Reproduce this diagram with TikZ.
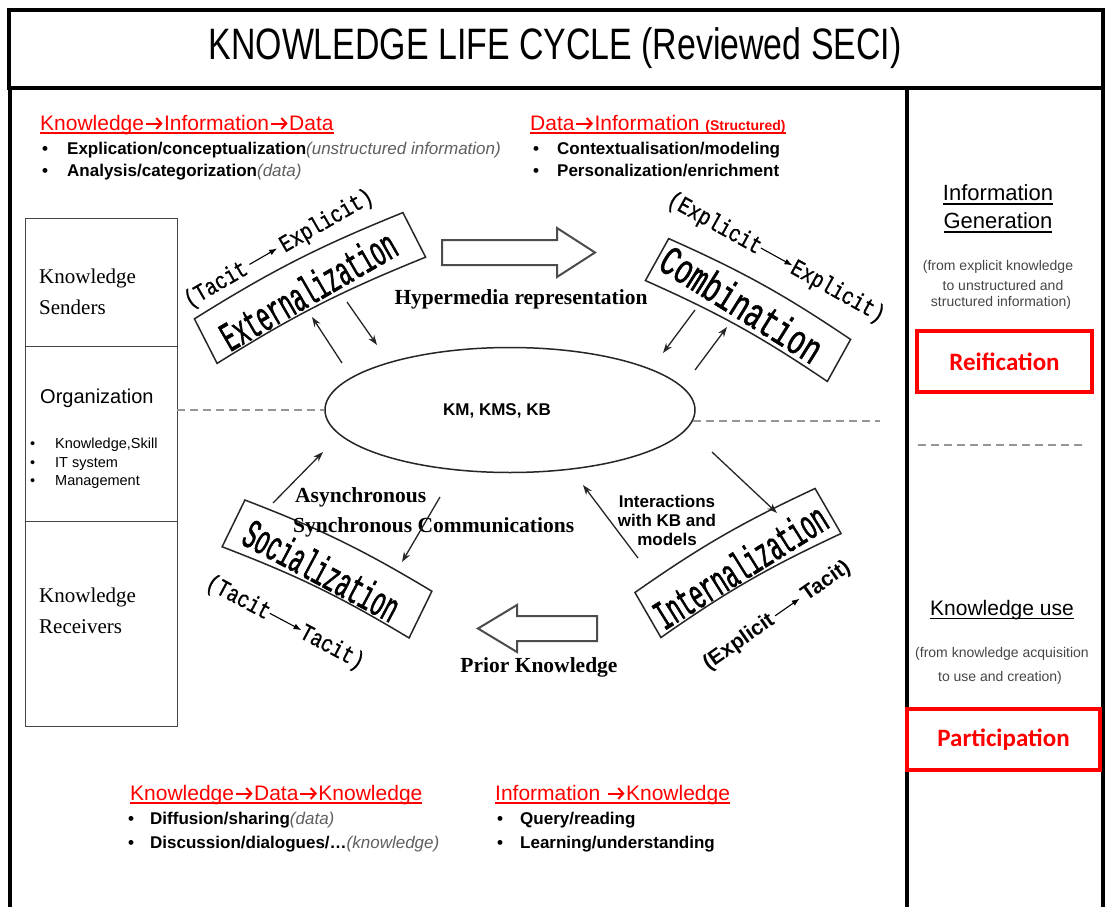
\documentclass[tikz,border=0pt]{standalone}
\usepackage{fontspec}
\setmainfont{Liberation Serif}
\newfontfamily\arial{Liberation Sans}
\newfontfamily\calib{Carlito}
\newfontfamily\banf[FakeStretch=0.52,FakeBold=1.2]{Liberation Mono}
\newfontfamily\banwf[FakeStretch=0.66,FakeBold=1.2]{Liberation Mono}
\newfontfamily\labf[FakeStretch=0.8,FakeBold=0.8]{Liberation Mono}
\usetikzlibrary{arrows.meta,shapes.geometric}
\definecolor{kred}{RGB}{255,0,0}
\definecolor{kgray}{RGB}{150,150,150}
\definecolor{dgray}{RGB}{70,70,70}
\definecolor{igray}{RGB}{95,95,95}
\newcommand\fsz[1]{\fontsize{#1}{#1}\selectfont}
\newcommand\uln[1]{\setbox0\hbox{#1}\rlap{\raisebox{-4pt}{\rule{\wd0}{1.6pt}}}\box0}
\newcommand\larr[1]{\tikz[baseline=-0.6ex]\draw[-{Latex[length=8pt,width=6pt]},line width=1.1pt](0pt,0pt)--(#1,0pt);}
\newcommand\harr{\kern0.5pt\tikz[baseline=0pt]\draw[kred,line width=2pt,-{Straight Barb[length=5pt,width=11pt,line width=2pt]}](0pt,6.5pt)--(17pt,6.5pt);\kern0.5pt}
\begin{document}
\begin{tikzpicture}[x=1pt,y=-1pt,
  frame/.style={line width=4pt},
  colbox/.style={draw=dgray,line width=1.3pt,minimum width=152,anchor=north west,inner sep=0},
  lser/.style={font=\fsz{21},anchor=base west,inner sep=0},
  lsan/.style={font=\arial\fsz{20},anchor=base west,inner sep=0},
  lsm/.style={font=\arial\fsz{14.5},anchor=base west,inner sep=0},
  hd/.style={font=\arial\fsz{21},text=kred,anchor=base west,inner sep=0},
  bl/.style={font=\arial\bfseries\fsz{17},anchor=base west,inner sep=0},
  sb/.style={font=\bfseries\fsz{21.5},inner sep=0},
  rc/.style={font=\arial\fsz{22},inner sep=0},
  rsm/.style={font=\arial\fsz{14},text=dgray,inner sep=0},
  redbox/.style={draw=kred,line width=4pt,text=kred,font=\calib\bfseries\fsz{25},inner sep=0},
  dline/.style={draw=kgray,line width=1.5pt,dash pattern=on 8pt off 5pt},
  banner/.style={draw=black!85,line width=1.5pt},
  sarr/.style={draw=black!85,line width=1.3pt,-{Stealth[length=10pt,width=7pt]}},
  barr/.style={draw=black!70,line width=2pt,fill=white}]
\useasboundingbox (0,0) rectangle (1108,907);
\fill[white] (0,0) rectangle (1108,907);
% frame
\draw[frame] (9,10) rectangle (1103,88);
\draw[frame] (10,88) -- (10,907);
\draw[frame] (907,88) -- (907,907);
\draw[frame] (1103,88) -- (1103,907);
\node[font=\arial\fsz{44},xscale=0.77,inner sep=0] (title) at (555,48) {KNOWLEDGE LIFE CYCLE (Reviewed SECI)};

% top headings
\node[hd] (h1) at (40,130) {\uln{Knowledge\harr Information\harr Data}};
\node[bl] (b1a) at (42,154) {•};
\node[bl] (b1) at (67,154) {Explication/conceptualization{\mdseries\itshape\color{igray}(unstructured information)}};
\node[bl] (b2a) at (42,176) {•};
\node[bl] (b2) at (67,176) {Analysis/categorization{\mdseries\itshape\color{igray}(data)}};
\node[hd] (h2) at (530,130) {\uln{Data\harr Information {\bfseries\fsz{14}(Structured)}}};
\node[bl] (b3a) at (533,154) {•};
\node[bl] (b3) at (557,154) {Contextualisation/modeling};
\node[bl] (b4a) at (533,176) {•};
\node[bl] (b4) at (557,176) {Personalization/enrichment};

% left column
\node[colbox,minimum height=128] (snd) at (25,218) {};
\node[colbox,minimum height=175] (org) at (25,346) {};
\node[colbox,minimum height=205] (rcv) at (25,521) {};
\node[lser] (snd1) at (39,283) {Knowledge};
\node[lser] (snd2) at (39,314) {Senders};
\node[lsan] (org1) at (40,403) {Organization};
\node[lsm] (o1a) at (30,448) {•};
\node[lsm] (o1) at (55,448) {Knowledge,Skill};
\node[lsm] (o2a) at (30,467) {•};
\node[lsm] (o2) at (55,467) {IT system};
\node[lsm] (o3a) at (30,485) {•};
\node[lsm] (o3) at (55,485) {Management};
\node[lser] (rcv1) at (39,602) {Knowledge};
\node[lser] (rcv2) at (39,633) {Receivers};

% ellipse
\node[draw=black!85,ellipse,line width=1.5pt,minimum width=370,minimum height=125,inner sep=0] (km) at (510,410) {};
\node[font=\arial\bfseries\fsz{17},inner sep=0] (kmt) at (497,411) {KM, KMS, KB};
\coordinate (dl) at (177,410);
\draw[dline] (dl) -- (km.west);
\coordinate (dr1) at (693,421);
\coordinate (dr2) at (880,421);
\draw[dline] (dr1) -- (dr2);

% block arrows
\draw[barr] (442,240) -- (557,240) -- (557,228) -- (595,252.5) -- (557,277) -- (557,265) -- (442,265) -- cycle;
\draw[barr] (597,616) -- (517,616) -- (517,605) -- (478,628.5) -- (517,652) -- (517,641) -- (597,641) -- cycle;

% Externalization banner
\begin{scope}[shift={(310,288)},rotate=27]
\draw[banner] (-117,-25) to[bend left=5] (117,-25) -- (117,25) to[bend right=5] (-117,25) -- cycle;
\end{scope}
\node[font=\banf\fsz{42},rotate=30,inner sep=0] (ext) at (308,290) {Externalization};
\node[font=\labf\fsz{24},rotate=30,inner sep=0] (extl) at (279,249) {(Tacit\,\larr{32pt}\,Explicit)};

% Combination banner
\begin{scope}[shift={(748,310)},rotate=-29]
\draw[banner] (-104,-24) to[bend left=5] (104,-24) -- (104,24) to[bend right=5] (-104,24) -- cycle;
\end{scope}
\node[font=\banwf\fsz{42},rotate=-32,inner sep=0] (comb) at (742,304) {Combination};
\node[font=\labf\fsz{24},rotate=-29,inner sep=0] (combl) at (776,258) {(Explicit\larr{36pt}Explicit)};

% Socialization banner
\begin{scope}[shift={(327,569)},rotate=-26]
\draw[banner] (-104,-26) to[bend left=5] (104,-26) -- (104,26) to[bend right=5] (-104,26) -- cycle;
\end{scope}
\node[font=\banf\fsz{42},rotate=-28,inner sep=0] (soc) at (322,570) {Socialization};
\node[font=\labf\fsz{24},rotate=-28,inner sep=0] (socl) at (285,623) {(Tacit\larr{36pt}Tacit)};

% Internalization banner
\begin{scope}[shift={(738,563)},rotate=30]
\draw[banner] (-104,-26) to[bend left=5] (104,-26) -- (104,26) to[bend right=5] (-104,26) -- cycle;
\end{scope}
\node[font=\banf\fsz{42},rotate=32,inner sep=0] (intz) at (740,566) {Internalization};
\node[font=\arial\bfseries\fsz{21},rotate=35,inner sep=0] (intl) at (777,616) {(Explicit\,\larr{30pt}\,Tacit)};

% center texts
\node[sb] (hyp) at (521,299) {Hypermedia representation};
\node[sb,anchor=west] (asy) at (295,497) {Asynchronous};
\node[sb,anchor=west] (syn) at (293,527) {Synchronous Communications};
\node[sb] (prior) at (539,667) {Prior Knowledge};
\node[font=\arial\bfseries\fsz{17},align=center,inner sep=0] (inter) at (667,520) {Interactions\\[2pt]with KB and\\[2pt]models};

% small arrows
\coordinate (a1s) at (342,363); \coordinate (a1e) at (312,317);
\coordinate (a2s) at (347,302); \coordinate (a2e) at (377,345);
\coordinate (a3s) at (695,310); \coordinate (a3e) at (663,353);
\coordinate (a4s) at (695,370); \coordinate (a4e) at (727,327);
\coordinate (a5s) at (273,503); \coordinate (a5e) at (323,452);
\coordinate (a6s) at (440,497); \coordinate (a6e) at (402,562);
\coordinate (a7s) at (712,452); \coordinate (a7e) at (777,513);
\coordinate (a8s) at (638,558); \coordinate (a8e) at (583,485);
\foreach \i in {1,...,8} {\draw[sarr] (a\i s) -- (a\i e);}

% bottom texts
\node[hd] (h3) at (130,800) {\uln{Knowledge\harr Data\harr Knowledge}};
\node[bl] (b5a) at (128,824) {•};
\node[bl] (b5) at (150,824) {Diffusion/sharing{\mdseries\itshape\color{igray}(data)}};
\node[bl] (b6a) at (128,848) {•};
\node[bl] (b6) at (150,848) {Discussion/dialogues/…{\mdseries\itshape\color{igray}(knowledge)}};
\node[hd] (h4) at (495,800) {\uln{Information \harr Knowledge}};
\node[bl] (b7a) at (497,824) {•};
\node[bl] (b7) at (520,824) {Query/reading};
\node[bl] (b8a) at (497,848) {•};
\node[bl] (b8) at (520,848) {Learning/understanding};

% right column
\node[rc] (ig1) at (998,195) {\uln{Information}};
\node[rc] (ig2) at (998,223) {\uln{Generation}};
\node[rsm] (ig3) at (998,267) {(from explicit knowledge};
\node[rsm] (ig4) at (1003,285) {to unstructured and};
\node[rsm] (ig5) at (1001,303) {structured information)};
\node[redbox,minimum width=175,minimum height=61] (reif) at (1004.5,361.5) {Reification};
\coordinate (rd1) at (918,445); \coordinate (rd2) at (1082,445);
\draw[dline] (rd1) -- (rd2);
\node[rc,font=\arial\fsz{21}] (ku) at (1002,610) {\uln{Knowledge use}};
\node[rsm] (ku1) at (1002,654) {(from knowledge acquisition};
\node[rsm] (ku2) at (1000,678) {to use and creation)};
\node[redbox,minimum width=193,minimum height=61] (part) at (1003.5,739.5) {Participation};
\end{tikzpicture}
\end{document}
